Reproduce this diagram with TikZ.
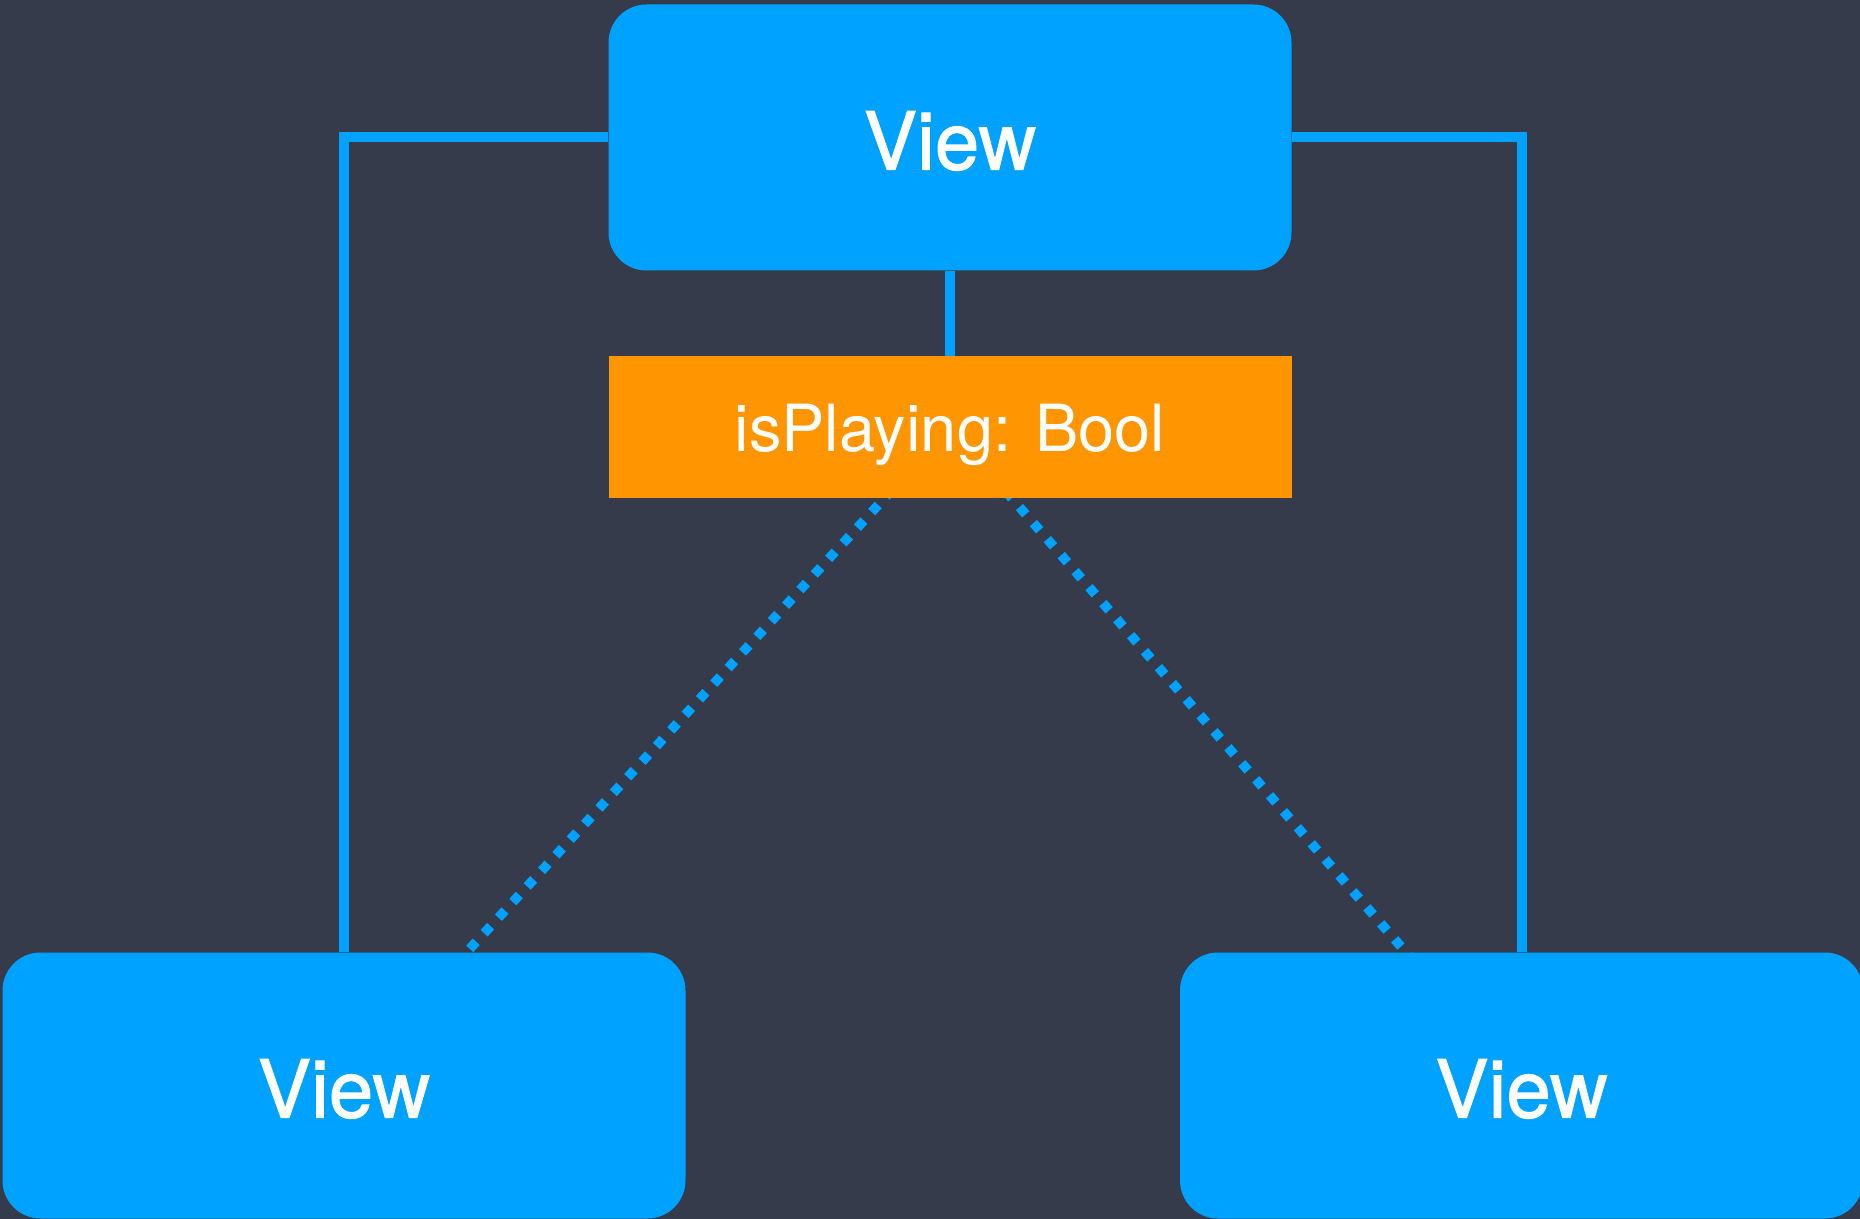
\documentclass[tikz,border=0pt]{standalone}
\usepackage{fontspec}
\setmainfont{TeX Gyre Heros}
\newfontface\viewfont{TeX Gyre Heros}[FakeBold=1.3]
\usepackage{tikz}
\usetikzlibrary{backgrounds}
\definecolor{bgslate}{RGB}{53, 59, 74}
\definecolor{viewblue}{RGB}{0, 162, 255}
\definecolor{stateorange}{RGB}{255, 149, 0}

\begin{document}
\begin{tikzpicture}[x=0.5pt, y=-0.5pt,
  viewbox/.style={rectangle, rounded corners=19pt, fill=viewblue, text=white,
    minimum width=341.5pt, minimum height=133pt, text height=32pt, text depth=0pt,
    font=\viewfont\fontsize{40}{48}\selectfont},
  statebox/.style={rectangle, fill=stateorange, text=white,
    minimum width=341.5pt, minimum height=71pt, text height=25pt, text depth=0pt,
    font=\fontsize{32.5}{39}\selectfont},
  link/.style={viewblue, line width=5pt},
  bindlink/.style={viewblue, line width=4.8pt, dash pattern=on 4.8pt off 5.8pt}]
\useasboundingbox (0,0) rectangle (1860,1219);
% Background
\begin{scope}[on background layer]
\fill[bgslate] (0,0) rectangle (1860,1219);
\end{scope}
% Views and state
\node[viewbox] (parent) at (950,137.5) {View};
\node[statebox] (state) at (950,427) {isPlaying: Bool};
\node[viewbox] (childA) at (344,1085.5) {View};
\node[viewbox] (childB) at (1521.5,1085.5) {View};
% Connectors
\begin{scope}[on background layer]
\draw[link] (parent.west) -| (childA.north);
\draw[link] (parent.east) -| (childB.north);
\draw[link] (parent.south) -- (state.north);
\draw[bindlink] (state.center) -- (childA.center);
\draw[bindlink] (state.center) -- (childB.center);
\end{scope}
\end{tikzpicture}
\end{document}
